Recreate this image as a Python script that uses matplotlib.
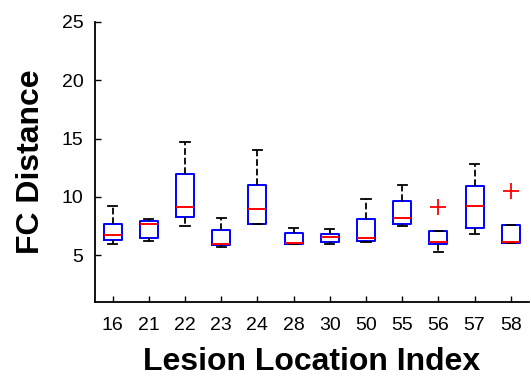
import matplotlib.pyplot as plt

plt.rcParams['font.family'] = ['Liberation Sans', 'DejaVu Sans']

# lesion location indices on the x axis
labels = ['16', '21', '22', '23', '24', '28', '30', '50', '55', '56', '57', '58']

# box plot summary statistics per lesion location
whislo = [6.00, 6.23, 7.47, 5.74, 7.64, 6.00, 6.00, 6.13, 7.52, 5.31, 6.83, 6.03]
q1 = [6.28, 6.52, 8.24, 5.86, 7.64, 6.00, 6.17, 6.23, 7.69, 5.97, 7.32, 6.03]
med = [6.72, 7.67, 9.11, 5.97, 8.99, 6.05, 6.60, 6.48, 8.21, 6.17, 9.22, 6.14]
q3 = [7.64, 7.98, 12.00, 7.18, 11.05, 6.95, 6.86, 8.14, 9.62, 7.12, 10.92, 7.58]
whishi = [9.22, 8.10, 14.68, 8.16, 14.02, 7.38, 7.26, 9.82, 11.00, 7.12, 12.78, 7.58]
fliers = [[], [], [], [], [], [], [], [], [], [9.16], [], [10.54]]

stats = []
for i in range(len(labels)):
    stats.append({'label': labels[i], 'whislo': whislo[i], 'q1': q1[i], 'med': med[i],
                  'q3': q3[i], 'whishi': whishi[i], 'fliers': fliers[i]})

fig = plt.figure(figsize=(5.31, 3.77), dpi=100)
ax = fig.add_axes([0.178, 0.199, 0.818, 0.743])

ax.bxp(stats, widths=0.5, capwidths=0.25, showfliers=True,
       boxprops=dict(color='blue', linewidth=1.4),
       medianprops=dict(color='red', linewidth=1.4),
       whiskerprops=dict(color='black', linestyle='--', linewidth=1.3),
       capprops=dict(color='black', linewidth=1.3),
       flierprops=dict(marker='+', markeredgecolor='red', markersize=11, markeredgewidth=1.3))

ax.set_xlim(0.5, 12.5)
ax.set_ylim(1, 25)
ax.set_yticks([5, 10, 15, 20, 25])
ax.spines['top'].set_visible(False)
ax.spines['right'].set_visible(False)
ax.spines['left'].set_linewidth(1.3)
ax.spines['bottom'].set_linewidth(1.3)
ax.tick_params(direction='in', length=4, width=1, labelsize=14)
ax.tick_params(axis='x', pad=11)
ax.tick_params(axis='y', pad=8)

ax.set_xlabel('Lesion Location Index', fontsize=23, fontweight='bold', labelpad=9)
ax.set_ylabel('FC Distance', fontsize=23, fontweight='bold', labelpad=11)

fig.savefig('out.png', dpi=100)
